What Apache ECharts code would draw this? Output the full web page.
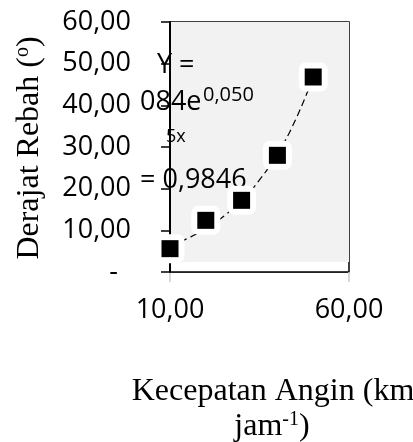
<!DOCTYPE html>
<html>
<head>
<meta charset="utf-8">
<script src="https://cdn.jsdelivr.net/npm/echarts@6/dist/echarts.min.js"></script>
<style>html,body{margin:0;padding:0;background:#fff}#c{width:413px;height:442px}</style>
</head>
<body>
<div id="c"></div>
<script>
// ---- data ----
const windSpeed = [10, 20, 30, 40, 50];          // Kecepatan Angin (km jam-1)
const lodgingAngle = [5.6, 12.4, 17.2, 28.0, 46.8]; // Derajat Rebah (o)
const trendX = [10, 15, 20, 25, 30, 35, 40, 45, 50];
const trendY = [6.3, 8.1, 10.4, 13.4, 17.2, 22.1, 28.4, 36.4, 46.8];
const xTickValues = [10, 60];
const yMin = 0, yMax = 60, yStep = 10;
const xMin = 10, xMax = 60;
const plotFloor = 2.4; // bottom of grey plot area (in y units)
const eqLine1 = 'Y =';
const eqLine2 = '084e';
const eqSup = '0,050';
const eqLine3 = '5x';
const eqLine4 = '= 0,9846';
const xTitle1 = 'Kecepatan Angin (km';
const xTitle2a = 'jam';
const xTitle2sup = '-1';
const xTitle2b = ')';
const yTitleMain = 'Derajat Rebah (';
const yTitleSup = 'o';
const yTitleEnd = ')';

const pts = windSpeed.map((x, i) => [x, lodgingAngle[i]]);
const trend = trendX.map((x, i) => [x, trendY[i]]);
const fmt = v => v === 0 ? '{d|-}' : v.toFixed(2).replace('.', ',');
const SANS = '"Open Sans", sans-serif';
const SERIF = '"Liberation Serif", "Times New Roman", serif';
const EZ = 2.5;

const chart = echarts.init(document.getElementById('c'), null, {renderer: 'canvas'});
chart.setOption({
  animation: false,
  backgroundColor: '#fff',
  grid: {left: 170, right: 64, top: 22, bottom: 170, show: true, borderColor: '#000', borderWidth: 1.5, backgroundColor: 'transparent'},
  xAxis: {
    type: 'value', min: xMin, max: xMax,
    axisLine: {show: true, lineStyle: {color: '#222', width: 1}},
    axisTick: {show: true, customValues: xTickValues, length: 10, lineStyle: {color: '#ccc', width: 1.5}},
    axisLabel: {customValues: xTickValues, formatter: v => v.toFixed(2).replace('.', ','), color: '#000', fontFamily: SANS, fontSize: 27, margin: 25},
    splitLine: {show: false}
  },
  yAxis: {
    type: 'value', min: yMin, max: yMax, interval: yStep, z: 3,
    axisLine: {show: true, lineStyle: {color: '#000', width: 2}},
    axisTick: {show: true, length: 9, lineStyle: {color: '#000', width: 1.5}},
    axisLabel: {formatter: fmt, color: '#000', fontFamily: SANS, fontSize: 27, margin: 39,
      rich: {d: {fontFamily: SANS, fontSize: 27, color: '#000', padding: [0, 13, 0, 0]}}},
    splitLine: {show: false}
  },
  graphic: {
    z: EZ,
    elements: [
      {type: 'text', z: EZ, left: 157, top: 52, style: {text: eqLine1, font: '27px ' + SANS, fill: '#000'}},
      {type: 'text', z: EZ, left: 140, top: 89, style: {text: eqLine2, font: '27px ' + SANS, fill: '#000'}},
      {type: 'text', z: EZ, left: 203, top: 85, style: {text: eqSup, font: '20px ' + SANS, fill: '#000'}},
      {type: 'text', z: EZ, left: 166, top: 128, style: {text: eqLine3, font: '18px ' + SANS, fill: '#000'}},
      {type: 'text', z: EZ, left: 140, top: 167, style: {text: eqLine4, font: '27px ' + SANS, fill: '#000'}},
      {type: 'text', z: EZ, x: 273, y: 392, style: {text: xTitle1, font: '32px ' + SERIF, fill: '#000', align: 'center', verticalAlign: 'middle'}},
      {type: 'text', z: EZ, x: 272, y: 427, style: {
        text: '{a|' + xTitle2a + '}{s|' + xTitle2sup + '}{a|' + xTitle2b + '}',
        align: 'center', verticalAlign: 'middle',
        rich: {a: {fontFamily: SERIF, fontSize: 32, fill: '#000', lineHeight: 34}, s: {fontFamily: SERIF, fontSize: 20, fill: '#000', lineHeight: 34, padding: [0, 0, 14, 0]}}
      }},
      {type: 'text', z: EZ, x: 30, y: 148, rotation: Math.PI / 2, style: {
        text: '{a|' + yTitleMain + '}{s|' + yTitleSup + '}{a|' + yTitleEnd + '}',
        align: 'center', verticalAlign: 'middle',
        rich: {a: {fontFamily: SERIF, fontSize: 32, fill: '#000', lineHeight: 34}, s: {fontFamily: SERIF, fontSize: 20, fill: '#000', lineHeight: 34, padding: [0, 0, 14, 0]}}
      }}
    ]
  },
  series: [
    {type: 'line', z: 0, data: [], silent: true,
      markArea: {silent: true, itemStyle: {color: '#f2f2f2', borderWidth: 0, opacity: 1},
        data: [[{coord: [xMin, plotFloor]}, {coord: [xMax, yMax]}]]}},
    {type: 'line', z: 2, data: trend, smooth: true, symbol: 'none', silent: true,
      lineStyle: {color: '#000', width: 1.2, type: [7, 4]}},
    {type: 'scatter', z: 4, data: pts, symbol: 'roundRect', symbolSize: 29, silent: true,
      itemStyle: {color: '#fff', opacity: 1}},
    {type: 'scatter', z: 5, data: pts, symbol: 'rect', symbolSize: 17, silent: true,
      itemStyle: {color: '#000', opacity: 1}}
  ]
});
</script>
</body>
</html>
